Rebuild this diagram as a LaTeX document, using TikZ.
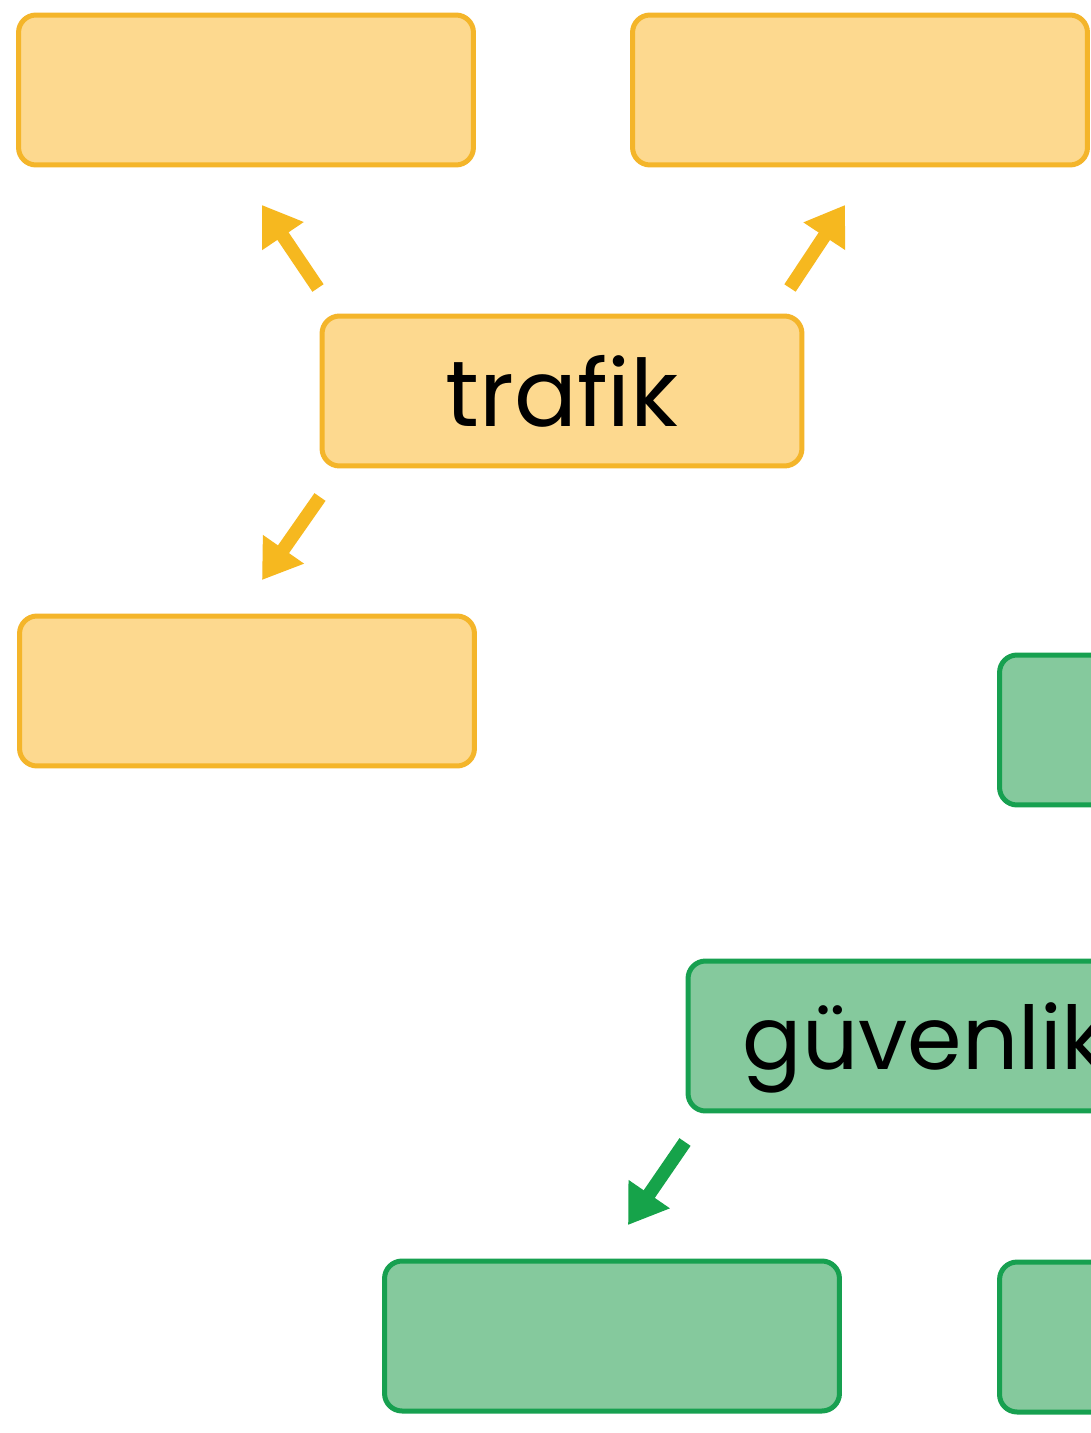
\documentclass[tikz,border=0pt]{standalone}
\usepackage{fontspec}
\setmainfont{Poppins}
\usetikzlibrary{positioning, arrows.meta}
\definecolor{sarikenar}{HTML}{F4B52A}
\definecolor{sarizemin}{HTML}{FDD98F}
\definecolor{sariok}{HTML}{F6B81F}
\definecolor{yesilkenar}{HTML}{17A050}
\definecolor{yesilzemin}{HTML}{85C99D}
\definecolor{yesilok}{HTML}{16A34A}
\tikzset{kutu/.style={draw, line width=0.1cm, rounded corners=0.35cm, minimum width=9.1cm, minimum height=3cm, inner sep=0pt, text depth=0pt, font=\fontsize{53}{64}\selectfont},
         sari/.style={kutu, draw=sarikenar, fill=sarizemin},
         yesil/.style={kutu, draw=yesilkenar, fill=yesilzemin},
         ok/.style={line width=0.27cm, -{Triangle[length=0.75cm,width=0.95cm]}},
        }

\begin{document}
\begin{tikzpicture}[x=0.02cm, y=-0.02cm]
        \clip(0,0)rectangle(1091,1433);
        \fill[white](0,0)rectangle(1091,1433);

        \node[sari](ust1)at(246,90){};
        \node[sari](ust2)at(860,90){};
        \node[sari, minimum width=9.6cm](trafik)at(562,391){trafik};
        \node[sari](orta1)at(247,691){};

        \node[yesil](orta2)at(1227,730){};
        \node[yesil, minimum width=9.48cm, font=\fontsize{50}{60}\selectfont](guvenlik)at(925,1036){güvenlik};
        \node[yesil](alt1)at(612,1336){};
        \node[yesil](alt2)at(1227,1337){};

        \coordinate(a1)at(318,288); \coordinate(b1)at(262,205);
        \coordinate(a2)at(790,288); \coordinate(b2)at(845,205);
        \coordinate(a3)at(320,497); \coordinate(b3)at(262,580);
        \coordinate(a4)at(685,1142); \coordinate(b4)at(628,1225);

        \draw[ok, draw=sariok, fill=sariok](a1)--(b1);
        \draw[ok, draw=sariok, fill=sariok](a2)--(b2);
        \draw[ok, draw=sariok, fill=sariok](a3)--(b3);
        \draw[ok, draw=yesilok, fill=yesilok](a4)--(b4);
    \end{tikzpicture}
\end{document}
